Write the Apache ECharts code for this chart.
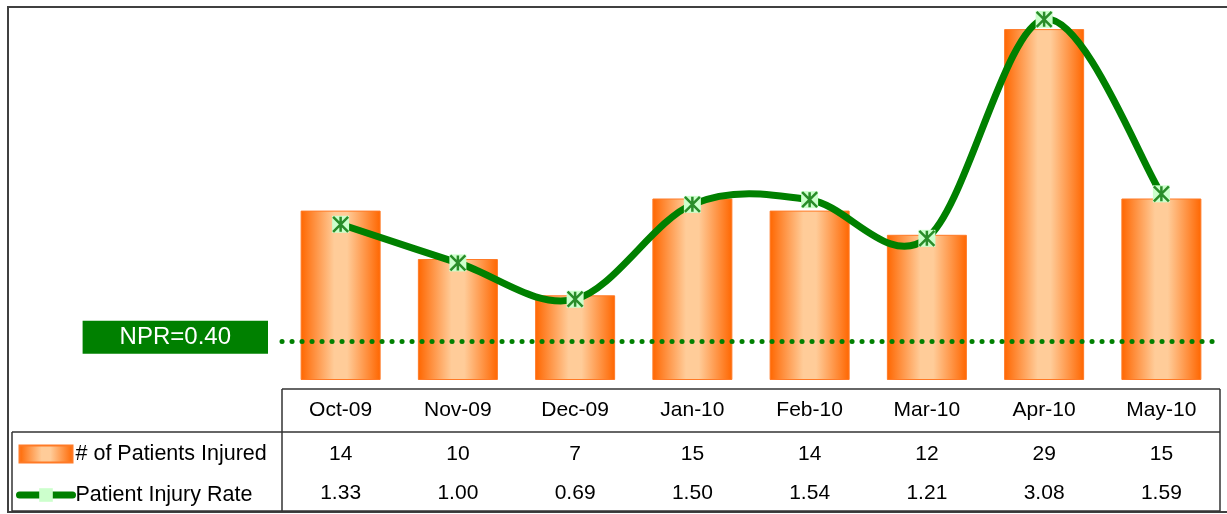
<!DOCTYPE html>
<html>
<head>
<meta charset="utf-8">
<title>Patient Injury</title>
<script src="https://cdn.jsdelivr.net/npm/echarts@6/dist/echarts.min.js"></script>
<style>
html, body { margin: 0; padding: 0; background: #fff; }
#chart { width: 1227px; height: 514px; }
</style>
</head>
<body>
<div id="chart"></div>
<script>
// months (table header)
var months = ['Oct-09', 'Nov-09', 'Dec-09', 'Jan-10', 'Feb-10', 'Mar-10', 'Apr-10', 'May-10'];
// # of patients injured (bars)
var injured = [14, 10, 7, 15, 14, 12, 29, 15];
// patient injury rate (line)
var injuryRate = [1.33, 1.00, 0.69, 1.50, 1.54, 1.21, 3.08, 1.59];
// NPR reference line: label text and where the dotted line sits on the rate axis
var nprLabel = 'NPR=0.40';
var nprLevel = 0.325;

var font = '"Liberation Sans", Arial, sans-serif';
var green = '#008000';

// cylinder-like orange fill
var barColor = {
    type: 'linear', x: 0, y: 0, x2: 1, y2: 0,
    colorStops: [
        { offset: 0, color: '#FF6600' },
        { offset: 0.42, color: '#FFCC99' },
        { offset: 0.58, color: '#FFCC99' },
        { offset: 1, color: '#FF6600' }
    ]
};

// one hidden category axis per table row
function tableAxis(margin, formatter) {
    return {
        type: 'category',
        data: months,
        position: 'bottom',
        axisLine: { show: false },
        axisTick: { show: false },
        splitLine: { show: false },
        axisLabel: {
            interval: 0,
            margin: margin,
            fontSize: 21,
            color: '#000',
            fontFamily: font,
            formatter: formatter
        }
    };
}

// excel-like smoothed curve (catmull-rom through the rate points)
function renderCurve(params, api) {
    if (params.dataIndex !== 0) return;
    var pts = injuryRate.map(function (v, i) { return api.coord([i, v]); });
    var n = pts.length;
    var children = [];
    for (var i = 0; i < n - 1; i++) {
        var p0 = pts[Math.max(i - 1, 0)];
        var p1 = pts[i];
        var p2 = pts[i + 1];
        var p3 = pts[Math.min(i + 2, n - 1)];
        children.push({
            type: 'bezierCurve',
            z2: 10,
            shape: {
                x1: p1[0], y1: p1[1],
                cpx1: p1[0] + (p2[0] - p0[0]) / 6,
                cpy1: p1[1] + (p2[1] - p0[1]) / 6,
                cpx2: p2[0] - (p3[0] - p1[0]) / 6,
                cpy2: p2[1] - (p3[1] - p1[1]) / 6,
                x2: p2[0], y2: p2[1]
            },
            style: { stroke: green, lineWidth: 7, fill: 'none', lineCap: 'round' }
        });
    }
    return { type: 'group', children: children };
}

// table frame lines
var tableLines = [
    [282, 389, 1220, 389],
    [282, 389, 282, 511],
    [12, 432, 1220, 432],
    [12, 432, 12, 511],
    [12, 511, 1220, 511],
    [1220, 389, 1220, 511]
];

var chart = echarts.init(document.getElementById('chart'));

var option = {
    animation: false,
    backgroundColor: '#fff',
    grid: { left: 282, right: 7, top: 17, bottom: 134 },
    legend: {
        orient: 'vertical',
        left: 16,
        top: 443,
        padding: 0,
        itemWidth: 53,
        itemHeight: 17,
        itemGap: 19,
        selectedMode: false,
        textStyle: { fontSize: 21.5, color: '#000', fontFamily: font, padding: [0, 0, 0, -2] },
        data: [
            { name: '# of Patients Injured', icon: 'rect' },
            {
                name: 'Patient Injury Rate',
                lineStyle: { color: green, width: 7, opacity: 1, cap: 'round' }
            }
        ]
    },
    xAxis: [
        tableAxis(20),
        tableAxis(64, function (v, i) { return String(injured[i]); }),
        tableAxis(103, function (v, i) { return injuryRate[i].toFixed(2); })
    ],
    yAxis: [
        { type: 'value', min: 0, max: 30, show: false },
        { type: 'value', min: 0, max: 3.1, show: false }
    ],
    series: [
        {
            name: '# of Patients Injured',
            type: 'bar',
            data: injured,
            barWidth: 80,
            z: 2,
            itemStyle: { color: barColor, borderColor: '#FF7A26', borderWidth: 1 }
        },
        {
            // the smoothed rate curve, above the bars
            type: 'custom',
            yAxisIndex: 1,
            data: injuryRate,
            renderItem: renderCurve,
            clip: false,
            silent: true,
            z: 5
        },
        {
            name: 'Patient Injury Rate',
            type: 'line',
            yAxisIndex: 1,
            data: injuryRate,
            symbol: 'rect',
            symbolSize: 17,
            z: 6,
            lineStyle: { color: green, width: 7, opacity: 0 },
            itemStyle: { color: '#CCFFCC' },
            markLine: {
                silent: true,
                symbol: ['none', 'none'],
                lineStyle: { color: green, width: 5, type: [0.1, 9.9], cap: 'round', opacity: 1 },
                label: {
                    show: true,
                    position: 'start',
                    distance: 14,
                    offset: [0, -4],
                    formatter: nprLabel,
                    color: '#fff',
                    fontSize: 24,
                    lineHeight: 25,
                    fontFamily: font,
                    backgroundColor: green,
                    padding: [4, 37, 4, 37]
                },
                data: [{ yAxis: nprLevel }]
            }
        },
        {
            // asterisk drawn on the markers
            type: 'scatter',
            yAxisIndex: 1,
            data: injuryRate,
            symbol: 'path://M0,0L16,16M16,0L0,16M8,0L8,16',
            symbolSize: 15,
            silent: true,
            z: 7,
            itemStyle: { color: 'rgba(0,0,0,0)', borderColor: '#007000', borderWidth: 2.5 }
        }
    ],
    graphic: [
        {
            type: 'rect',
            silent: true,
            shape: { x: 8, y: 7, width: 1240, height: 505 },
            style: { fill: 'none', stroke: '#404040', lineWidth: 2 }
        }
    ].concat(tableLines.map(function (l) {
        return {
            type: 'line',
            silent: true,
            shape: { x1: l[0], y1: l[1], x2: l[2], y2: l[3] },
            style: { stroke: '#333', lineWidth: 1.5 }
        };
    }))
};

chart.setOption(option);
</script>
</body>
</html>
